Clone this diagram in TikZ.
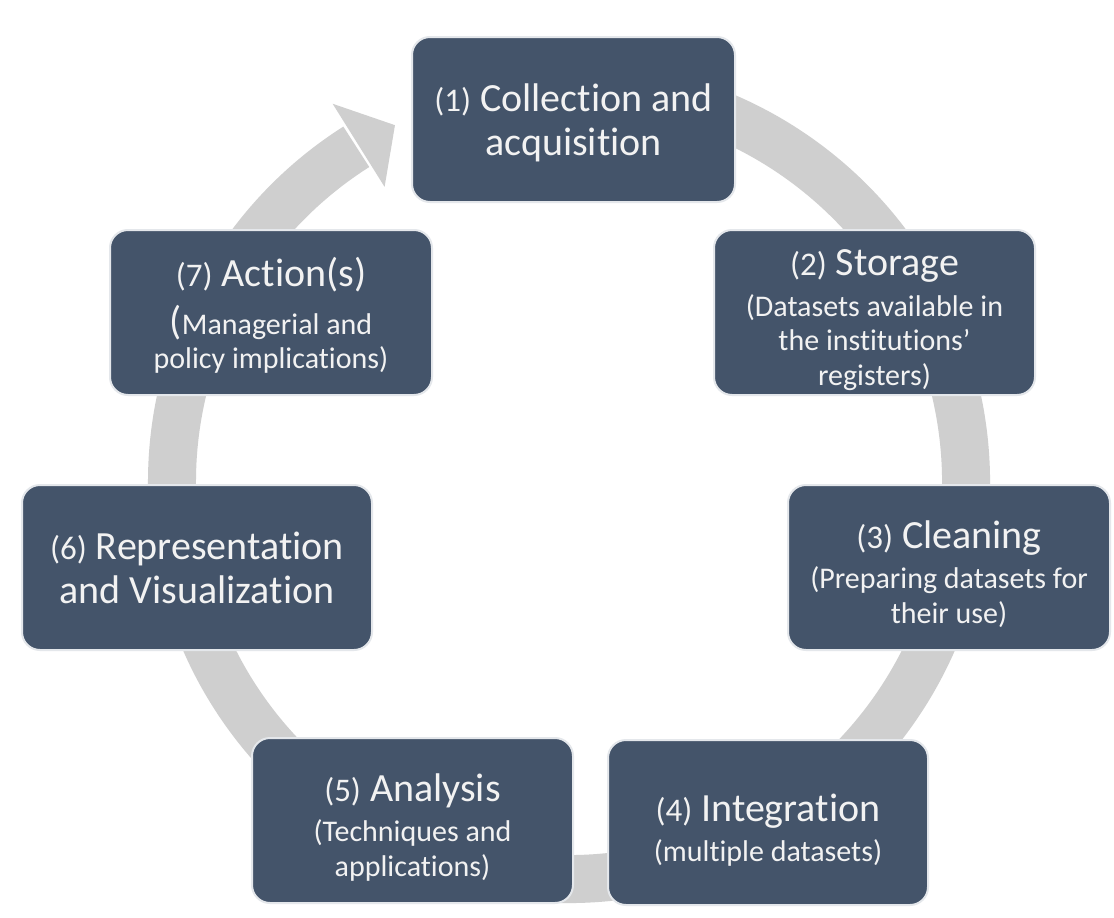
\documentclass[tikz,border=0pt]{standalone}
\usepackage{fontspec}
\setmainfont{Carlito}[Ligatures={TeX,NoCommon}]
\usetikzlibrary{calc}
\definecolor{boxfill}{HTML}{44546A}
\definecolor{ringgray}{HTML}{CFCFCF}
\definecolor{boxline}{HTML}{E4E7EB}
\definecolor{txt}{HTML}{F2F2F2}
\newcommand\Tfont{\fontsize{40}{44}\selectfont}
\newcommand\Sfont{\fontsize{30}{34.5}\selectfont}
\newcommand\Nfont{\fontsize{33}{44}\selectfont}
\newcommand\Upstrut{\rule{0pt}{41pt}}
\tikzset{stage/.style={rectangle, rounded corners=18pt, fill=boxfill, draw=boxline, line width=2pt, minimum height=165pt, text=txt, align=center, inner sep=0pt, font=\Sfont}}
\begin{document}
\begin{tikzpicture}[x=1pt,y=1pt]
\useasboundingbox[fill=white] (0,0) rectangle (1114,-918);
\coordinate (c) at (569,-482);
\draw[ringgray, line width=48pt] (c) ++(100:397) arc[start angle=100, end angle=-237.6, radius=397];
\fill[ringgray] ($(c)+(122:348)$) -- ($(c)+(122:446)$) -- ($(c)+(116:397)$) -- cycle;
\node[stage, minimum width=323pt, font=\Tfont] (s1) at (573.5,-119.5) {\rule{0pt}{34pt}{\Nfont(1)} Collection and\\acquisition};
\node[stage, minimum width=321pt] (s2) at (874.5,-312.5) {{\Tfont\Upstrut{\Nfont(2)} Storage}\\[6pt](Datasets available in\\the institutions’\\registers)};
\node[stage, minimum width=322pt] (s3) at (949,-567.5) {{\Tfont\Upstrut{\Nfont(3)} Cleaning}\\[6pt](Preparing datasets for\\their use)};
\node[stage, minimum width=320pt] (s4) at (768,-822.5) {{\Tfont\rule{0pt}{43pt}{\Nfont(4)} Integration}\\[6pt](multiple datasets)};
\node[stage, minimum width=321pt] (s5) at (412.5,-820.5) {{\Tfont\Upstrut{\Nfont(5)} Analysis}\\[6pt](Techniques and\\applications)};
\node[stage, minimum width=350pt, font=\Tfont] (s6) at (197,-567.5) {{\Nfont(6)} Representation\\and Visualization};
\node[stage, minimum width=322pt] (s7) at (271,-312.5) {{\Tfont\rule{0pt}{35pt}{\Nfont(7)} Action(s)}\\[12pt]{\Tfont(}Managerial and\\policy implications)};
\end{tikzpicture}
\end{document}
